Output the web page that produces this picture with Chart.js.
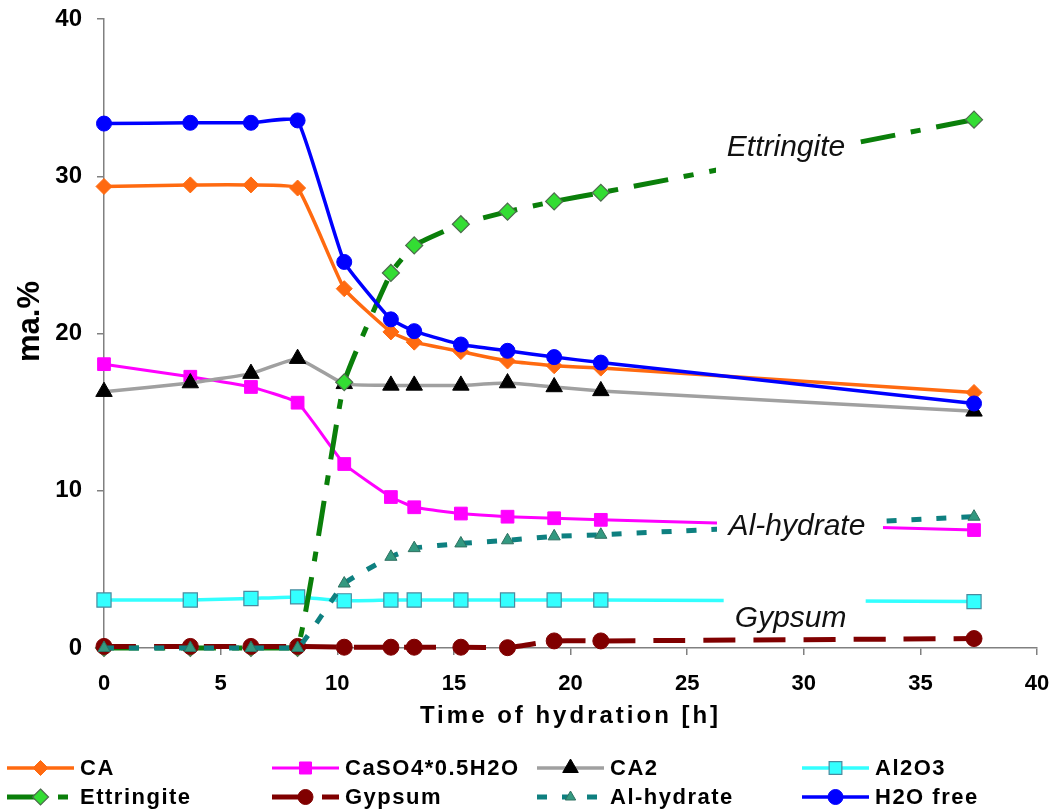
<!DOCTYPE html>
<html><head><meta charset="utf-8">
<script src="https://cdn.jsdelivr.net/npm/chart.js@4/dist/chart.umd.min.js"></script>
<style>html,body{margin:0;padding:0;background:#fff;}canvas{display:block;}</style>
</head><body>
<canvas id="c" width="1053" height="809"></canvas>
<script>
// ---- data ----
const hours      = [0, 3.7, 6.3, 8.3, 10.3, 12.3, 13.3, 15.3, 17.3, 19.3, 21.3, 37.3];
const caVals     = [29.35, 29.45, 29.45, 29.25, 22.85, 20.1, 19.45, 18.85, 18.25, 17.95, 17.8, 16.25];
const caso4Vals  = [18.05, 17.25, 16.6, 15.6, 11.7, 9.6, 8.95, 8.55, 8.35, 8.25, 8.15, 7.5];
const ca2Vals    = [16.3, 16.85, 17.45, 18.4, 16.8, 16.7, 16.7, 16.7, 16.85, 16.6, 16.35, 15.05];
const al2o3Vals  = [3.05, 3.05, 3.15, 3.25, 3.0, 3.05, 3.05, 3.05, 3.05, 3.05, 3.05, 2.95];
const ettrVals   = [0, 0, 0, 0, 16.9, 23.85, 25.6, 26.95, 27.75, 28.4, 28.95, 33.6];
const gypsumVals = [0.1, 0.1, 0.1, 0.1, 0.05, 0.05, 0.05, 0.05, 0.02, 0.45, 0.45, 0.6];
const alhydVals  = [0, 0, 0, 0, 4.1, 5.8, 6.35, 6.65, 6.85, 7.1, 7.2, 8.35];
const h2oVals    = [33.35, 33.4, 33.4, 33.55, 24.55, 20.9, 20.15, 19.3, 18.9, 18.5, 18.15, 15.55];
const seriesNames = ['CA', 'CaSO4*0.5H2O', 'CA2', 'Al2O3', 'Ettringite', 'Gypsum', 'Al-hydrate', 'H2O free'];
const xTickValues = [0, 5, 10, 15, 20, 25, 30, 35, 40];
const yTickValues = [0, 10, 20, 30, 40];
const xTitle = 'Time of hydration [h]';
const yTitle = 'ma.%';
const curveLabels = ['Ettringite', 'Al-hydrate', 'Gypsum'];

const FONT = "'Liberation Sans', Arial, sans-serif";
Chart.defaults.font.family = FONT;

const allVals = [caVals, caso4Vals, ca2Vals, al2o3Vals, ettrVals, gypsumVals, alhydVals, h2oVals];
const styles = [
  {line:'#FF6A10', w:3.5, dash:[], ps:'rectRot', r:8, lr:7.5, fill:'#FF6A10', stroke:'#FF6A10', bw:1},
  {line:'#FF00FF', w:3, dash:[], ps:'rect', r:9, lr:8.5, fill:'#FF00FF', stroke:'#FF00FF', bw:1},
  {line:'#A0A0A0', w:3.5, dash:[], ps:'triangle', r:9.5, lr:9, fill:'#000000', stroke:'#000000', bw:1},
  {line:'#33FFFF', w:3.5, dash:[], ps:'rect', r:10, lr:9, fill:'#33FFFF', stroke:'#4A8A9E', bw:1.2},
  {line:'#0A7F0A', w:5, dash:[35,16,10,16], ps:'rectRot', r:8.5, lr:8, fill:'#33DD33', stroke:'#4D6B4D', bw:1.2},
  {line:'#800000', w:5, dash:[32,18], ps:'circle', r:8, lr:7.5, fill:'#800000', stroke:'#800000', bw:1},
  {line:'#0E8080', w:5, dash:[10,15], ps:'triangle', r:7, lr:6, fill:'#339980', stroke:'#2E7060', bw:1},
  {line:'#0000FF', w:3.5, dash:[], ps:'circle', r:7.5, lr:7.5, fill:'#0000FF', stroke:'#0000FF', bw:1}
];

const datasets = seriesNames.map((name, i) => ({
  label: name,
  data: hours.map((h, k) => ({x: h, y: allVals[i][k]})),
  borderColor: styles[i].line,
  backgroundColor: styles[i].fill,
  borderWidth: styles[i].w,
  borderDash: styles[i].dash,
  borderCapStyle: 'butt',
  borderJoinStyle: 'round',
  pointStyle: styles[i].ps,
  pointRadius: styles[i].r,
  pointHoverRadius: styles[i].r,
  pointBackgroundColor: styles[i].fill,
  pointBorderColor: styles[i].stroke,
  pointBorderWidth: styles[i].bw,
  tension: 0.12,
  fill: false,
  clip: false,
  order: seriesNames.length - i
}));

function drawMarker(ctx, st, x, y, r) {
  ctx.save();
  ctx.setLineDash([]);
  ctx.fillStyle = st.fill; ctx.strokeStyle = st.stroke; ctx.lineWidth = st.bw;
  ctx.beginPath();
  if (st.ps === 'circle') ctx.arc(x, y, r, 0, Math.PI * 2);
  else if (st.ps === 'rectRot') { ctx.moveTo(x, y - r); ctx.lineTo(x + r, y); ctx.lineTo(x, y + r); ctx.lineTo(x - r, y); ctx.closePath(); }
  else if (st.ps === 'rect') { const s = r * Math.SQRT1_2; ctx.rect(x - s, y - s, 2 * s, 2 * s); }
  else if (st.ps === 'triangle') { const a = 2 * Math.PI / 3; ctx.moveTo(x, y - r); ctx.lineTo(x + Math.sin(a) * r, y - Math.cos(a) * r); ctx.lineTo(x - Math.sin(a) * r, y - Math.cos(a) * r); ctx.closePath(); }
  ctx.fill(); ctx.stroke();
  ctx.restore();
}

const titlePlugin = {
  id: 'titleTweaks',
  beforeDraw(chart) {
    const sx = chart.scales.x, sy = chart.scales.y;
    if (sx && !sx._tw) {
      const orig = sx.drawTitle;
      sx.drawTitle = function () {
        const c = this.ctx; c.save(); c.letterSpacing = '3px'; orig.apply(this, arguments); c.restore();
      };
      sx._tw = true;
    }
    if (sy && !sy._tw) {
      const origY = sy.drawTitle;
      sy.drawTitle = function () {
        const c = this.ctx; c.save(); c.translate(0, -12); origY.apply(this, arguments); c.restore();
      };
      sy._tw = true;
    }
  }
};

const curveLabelPlugin = {
  id: 'curveLabels',
  afterDatasetsDraw(chart, args, opts) {
    const ctx = chart.ctx, xs = chart.scales.x, ys = chart.scales.y;
    opts.items.forEach(it => {
      const px = xs.getPixelForValue(it.x), py = ys.getPixelForValue(it.y);
      ctx.save();
      ctx.fillStyle = '#ffffff';
      ctx.fillRect(px + it.bx - it.bw / 2, py + it.top, it.bw, it.bottom - it.top);
      ctx.fillStyle = '#111111';
      ctx.font = 'italic 30px ' + FONT;
      ctx.textAlign = 'center'; ctx.textBaseline = 'middle';
      ctx.fillText(it.text, px, py);
      ctx.restore();
    });
  }
};

const legendPlugin = {
  id: 'gridLegend',
  afterDraw(chart, args, opts) {
    const ctx = chart.ctx;
    seriesNames.forEach((name, i) => {
      const st = styles[i];
      const x0 = opts.cols[i % 4], y = opts.rows[Math.floor(i / 4)];
      ctx.save();
      ctx.strokeStyle = st.line; ctx.lineWidth = st.w; ctx.setLineDash(st.dash); ctx.lineCap = 'butt';
      ctx.beginPath(); ctx.moveTo(x0, y); ctx.lineTo(x0 + opts.sample, y); ctx.stroke();
      ctx.restore();
      drawMarker(ctx, st, x0 + opts.sample / 2, y, st.lr);
      ctx.save();
      ctx.fillStyle = '#000'; ctx.font = 'bold 22px ' + FONT;
      ctx.letterSpacing = '1.5px';
      ctx.textAlign = 'left'; ctx.textBaseline = 'middle';
      ctx.fillText(name, x0 + opts.sample + 6, y + 1);
      ctx.restore();
    });
  }
};

new Chart(document.getElementById('c'), {
  type: 'line',
  data: {datasets},
  plugins: [titlePlugin, curveLabelPlugin, legendPlugin],
  options: {
    responsive: false,
    animation: false,
    events: [],
    layout: {padding: 0},
    plugins: {
      legend: {display: false},
      tooltip: {enabled: false},
      curveLabels: {items: [
        {text: curveLabels[0], x: 29.24, y: 31.8, bx: 0, bw: 140, top: -22, bottom: 26},
        {text: curveLabels[1], x: 29.71, y: 7.69, bx: 3, bw: 166, top: -17, bottom: 17},
        {text: curveLabels[2], x: 29.44, y: 1.84, bx: 4, bw: 142, top: -22, bottom: 14}
      ]},
      gridLegend: {cols: [7, 272, 537, 802], rows: [768, 797], sample: 67}
    },
    scales: {
      x: {
        type: 'linear', min: 0, max: 40,
        afterBuildTicks(s) { s.ticks = xTickValues.map(v => ({value: v})); },
        ticks: {color: '#000', font: {size: 22, weight: 'bold'}, padding: 16, maxRotation: 0, autoSkip: false},
        grid: {drawOnChartArea: false, drawTicks: true, tickLength: 7, color: '#808080', lineWidth: 1.5},
        border: {display: true, color: '#808080', width: 1.5},
        title: {display: true, text: xTitle, color: '#000', font: {size: 24, weight: 'bold'}, padding: {top: 0, bottom: 78}},
        afterFit(s) { s.height = 161; s.paddingLeft = 0; s.paddingRight = 16; }
      },
      y: {
        type: 'linear', min: 0, max: 40,
        afterBuildTicks(s) { s.ticks = yTickValues.map(v => ({value: v})); },
        ticks: {color: '#000', font: {size: 24, weight: 'bold'}, padding: 15},
        grid: {drawOnChartArea: false, drawTicks: true, tickLength: 7, color: '#808080', lineWidth: 1.5},
        border: {display: true, color: '#808080', width: 1.5},
        title: {display: true, text: yTitle, color: '#000', font: {size: 31, weight: 'bold'}, padding: {top: 12, bottom: 0}},
        afterFit(s) { s.width = 104; s.paddingTop = 19; s.paddingBottom = 0; }
      }
    }
  }
});
</script>
</body></html>
